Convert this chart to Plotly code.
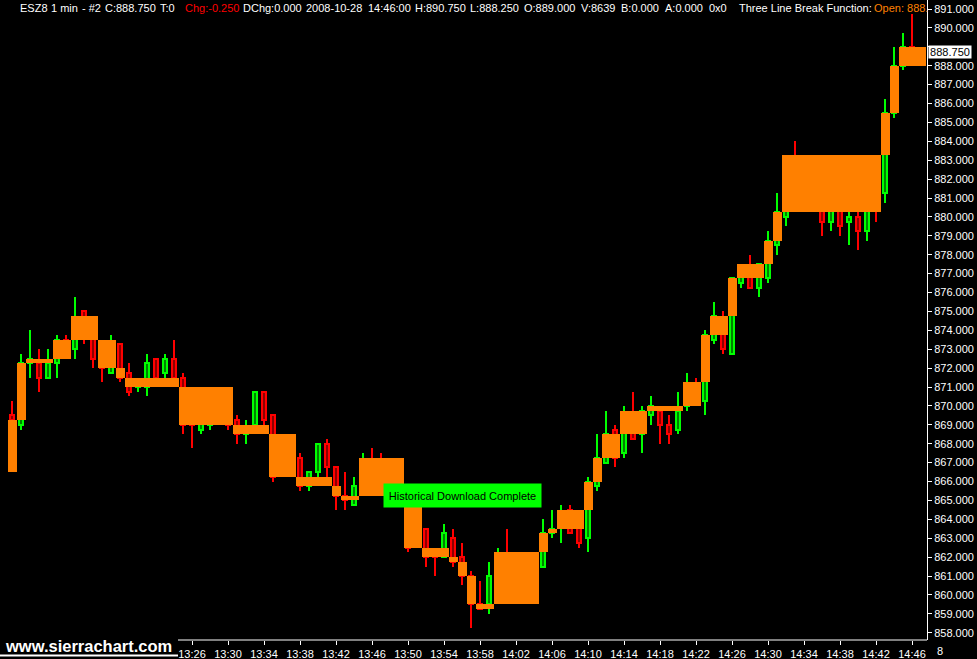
import plotly.graph_objects as go

# ---------------- data (1-minute bars, 13:06 .. 14:46) ----------------
bar_index = list(range(101))
open_ = [869.5, 869.0, 872.25, 872.25, 871.5, 872.25, 873.5, 873.0, 875.0, 873.75,
         873.25, 871.75, 873.25, 871.75, 871.0, 871.0, 872.5, 871.75, 872.5, 871.5,
         870.0, 868.75, 869.0, 869.5, 869.5, 869.25, 868.5, 869.0, 870.75, 869.5,
         867.5, 867.0, 867.25, 865.75, 866.5, 868.0, 866.75, 865.25, 864.75, 865.5,
         866.75, 866.5, 866.0, 866.5, 865.25, 863.0, 863.5, 862.25, 862.0, 863.0,
         862.0, 861.0, 859.5, 859.5, 861.0, 862.0, 861.25, 861.5, 861.0, 861.5,
         863.25, 863.75, 864.5, 864.25, 863.0, 865.75, 867.0, 868.75, 867.5, 869.5,
         868.5, 869.5, 869.75, 869.0, 868.75, 870.0, 871.0, 870.25, 873.5, 874.5,
         872.75, 876.5, 877.25, 876.25, 876.75, 878.5, 880.0, 882.0, 881.0, 881.5,
         881.0, 879.75, 880.75, 879.75, 880.0, 879.25, 881.0, 881.25, 885.5, 888.0,
         889.0]
high = [870.25, 872.75, 874.0, 873.0, 873.0, 873.75, 873.75, 875.75, 875.0, 874.0,
        873.5, 873.75, 873.25, 872.25, 871.5, 872.75, 872.5, 872.75, 873.5, 871.75,
        870.5, 869.75, 870.0, 870.0, 869.75, 869.5, 869.25, 870.75, 870.75, 869.5,
        868.0, 867.5, 867.5, 866.5, 868.0, 868.25, 866.75, 866.5, 866.25, 867.5,
        867.75, 867.5, 867.0, 867.0, 865.5, 863.5, 863.5, 862.5, 863.75, 863.5,
        862.75, 861.25, 860.75, 861.75, 862.5, 863.5, 862.0, 862.0, 862.25, 864.0,
        864.5, 864.75, 864.75, 864.5, 866.25, 868.5, 869.75, 869.0, 870.0, 870.75,
        870.0, 870.5, 870.0, 869.5, 870.75, 871.75, 871.5, 874.0, 875.5, 875.0,
        876.75, 877.5, 878.0, 877.5, 879.25, 881.25, 882.5, 884.0, 882.0, 882.25,
        881.5, 881.0, 881.0, 880.25, 880.5, 881.0, 881.5, 886.25, 889.0, 889.75,
        890.75]
low = [869.0, 868.75, 871.5, 870.75, 871.5, 871.5, 872.5, 872.5, 873.25, 872.0,
       871.25, 871.75, 871.25, 870.5, 870.75, 870.5, 871.25, 871.25, 871.25, 868.5,
       867.75, 868.5, 868.75, 869.0, 868.75, 868.0, 868.0, 868.75, 869.0, 866.0,
       866.75, 866.5, 865.5, 865.5, 866.25, 866.25, 864.5, 864.5, 864.75, 865.25,
       865.75, 865.5, 865.5, 865.5, 862.25, 862.5, 861.5, 861.0, 862.0, 861.5,
       860.5, 858.25, 859.25, 859.0, 860.0, 861.0, 860.5, 860.75, 860.75, 861.5,
       863.0, 862.75, 863.25, 862.5, 862.25, 865.5, 867.0, 866.75, 867.25, 868.25,
       867.5, 869.0, 868.0, 868.0, 868.5, 869.75, 870.25, 869.5, 873.25, 872.75,
       872.75, 876.25, 876.25, 875.75, 876.5, 878.0, 879.5, 880.5, 880.5, 880.75,
       879.0, 879.25, 879.0, 878.5, 878.25, 878.75, 879.75, 880.75, 885.25, 887.75,
       888.25]
close = [869.25, 872.25, 872.5, 871.5, 872.25, 873.5, 872.75, 874.5, 873.75, 872.5,
         872.0, 873.0, 871.5, 870.75, 871.25, 872.25, 871.5, 872.5, 871.5, 869.0,
         869.0, 869.5, 869.5, 869.25, 869.0, 868.5, 868.75, 870.75, 869.25, 866.25,
         867.0, 866.75, 865.75, 866.5, 868.0, 866.75, 865.25, 865.0, 865.75, 866.75,
         866.0, 866.0, 866.5, 865.75, 862.5, 862.75, 862.0, 862.0, 863.25, 861.75,
         861.0, 859.5, 859.25, 861.0, 862.0, 861.25, 861.5, 861.0, 862.0, 863.25,
         863.5, 864.25, 863.25, 862.75, 866.0, 867.25, 868.5, 867.25, 869.5, 868.25,
         869.75, 870.0, 869.0, 868.5, 869.75, 871.0, 870.5, 873.75, 874.75, 873.0,
         876.75, 877.25, 876.25, 877.5, 878.75, 880.25, 882.0, 881.0, 881.5, 881.0,
         879.75, 880.75, 879.5, 880.0, 879.25, 880.75, 880.5, 885.5, 888.0, 889.0,
         888.75]

# Three Line Break lines: first bar, last bar, line start price, line end price
brick_start = [0, 1, 2, 5, 7, 10, 12, 13, 19, 25, 29, 32, 36, 37, 39, 44, 46, 49, 50, 51,
               52, 54, 59, 60, 61, 64, 65, 66, 68, 71, 75, 77, 78, 80, 81, 84, 85, 86, 97, 98, 99]
brick_end = [0, 1, 4, 6, 9, 11, 12, 18, 24, 28, 31, 35, 36, 38, 43, 45, 48, 49, 50, 51,
             53, 58, 59, 60, 63, 64, 65, 67, 70, 74, 76, 77, 79, 80, 83, 84, 85, 96, 97, 98, 101]
brick_from = [866.5, 869.25, 872.25, 872.5, 873.5, 873.5, 872.0, 871.5, 871.0, 869.0,
              868.5, 866.25, 865.75, 865.25, 865.25, 865.25, 862.5, 862.0, 861.75, 861.0,
              859.5, 859.5, 862.25, 863.25, 863.5, 864.5, 866.0, 867.25, 868.5, 869.75,
              870.0, 871.25, 873.75, 874.75, 876.75, 877.5, 878.75, 880.25, 883.25, 885.5,
              888.0]
brick_to = [869.25, 872.25, 872.5, 873.5, 874.75, 872.0, 871.5, 871.0, 869.0, 868.5,
            866.25, 865.75, 865.25, 865.0, 867.25, 862.5, 862.0, 861.75, 861.0, 859.5,
            859.25, 862.25, 863.25, 863.5, 864.5, 866.0, 867.25, 868.5, 869.75, 870.0,
            871.25, 873.75, 874.75, 876.75, 877.5, 878.75, 880.25, 883.25, 885.5, 888.0,
            889.0]

tick_index = list(range(20, 101, 4))
tick_labels = ["13:26", "13:30", "13:34", "13:38", "13:42", "13:46", "13:50", "13:54",
               "13:58", "14:02", "14:06", "14:10", "14:14", "14:18", "14:22", "14:26",
               "14:30", "14:34", "14:38", "14:42", "14:46"]

price_ticks = list(range(858, 892))
price_hidden = [889]   # label covered by the last-price marker

header_items = ["ESZ8", "1 min", "- #2", "C:888.750", "T:0", "Chg:-0.250", "DChg:0.000",
                "2008-10-28", "14:46:00", "H:890.750", "L:888.250", "O:889.000", "V:8639",
                "B:0.000", "A:0.000", "0x0", "Three Line Break Function:", "Open: 888."]
header_x = [19, 50, 81, 104, 159, 184, 242, 305, 367, 414, 469, 523, 580, 620, 664, 708, 738, 873]
header_colors = ["white"] * 5 + ["#FF0000"] + ["white"] * 11 + ["#FF8000"]

last_price = 888.75

# ---------------- figure ----------------
FONT = "Liberation Sans, Arial, sans-serif"
W, H = 977, 659
PW, PH = 927, 640   # plot area size in px

GREEN, DKGREEN = "#00FF00", "#008000"
RED, DKRED = "#FF0000", "#8B0000"
ORANGE = "#FF8000"

fig = go.Figure()

up_idx = [i for i in bar_index if close[i] >= open_[i]]
dn_idx = [i for i in bar_index if close[i] < open_[i]]

# wicks
for idx, col in ((up_idx, GREEN), (dn_idx, RED)):
    fig.add_trace(go.Bar(
        x=idx, y=[high[i] - low[i] for i in idx], base=[low[i] for i in idx],
        width=0.22, marker=dict(color=col, line=dict(width=0)), hoverinfo="skip"))

# bodies
for idx, fill, col in ((up_idx, DKGREEN, GREEN), (dn_idx, DKRED, RED)):
    fig.add_trace(go.Bar(
        x=idx, y=[max(abs(close[i] - open_[i]), 0.05) for i in idx],
        base=[min(open_[i], close[i]) for i in idx],
        width=0.45, marker=dict(color=fill, line=dict(color=col, width=2)),
        hoverinfo="skip"))

# three line break bricks
fig.add_trace(go.Bar(
    x=[(s + e) / 2 for s, e in zip(brick_start, brick_end)],
    y=[abs(t - f) for f, t in zip(brick_from, brick_to)],
    base=[min(f, t) for f, t in zip(brick_from, brick_to)],
    width=[e - s + 1 for s, e in zip(brick_start, brick_end)],
    marker=dict(color=ORANGE, line=dict(width=0)), hoverinfo="skip"))

x0 = -12 / 9
x1 = (PW - 12) / 9
ytop = 891 + 9 / 18.9
ybot = 891 - (PH - 9) / 18.9

annotations = []
for txt, px, col in zip(header_items, header_x, header_colors):
    annotations.append(dict(text=txt, xref="paper", yref="paper", x=px / PW, y=1 - 8 / PH,
                            xanchor="left", yanchor="middle", showarrow=False,
                            font=dict(family=FONT, size=11, color=col), borderpad=0))

annotations.append(dict(text="Historical Download Complete", xref="paper", yref="paper",
                        x=462.5 / PW, y=1 - 495.5 / PH, xanchor="center", yanchor="middle",
                        showarrow=False, width=151, height=17, borderpad=3,
                        bgcolor="#00FF00", font=dict(family=FONT, size=11, color="black")))

annotations.append(dict(text=f"{last_price:.3f}", xref="paper", yref="y",
                        x=928 / PW, y=last_price, xanchor="left", yanchor="middle",
                        showarrow=False, width=40, height=10, borderpad=1,
                        bgcolor="white", font=dict(family=FONT, size=11, color="black")))

annotations.append(dict(text="www.sierrachart.com", xref="paper", yref="paper",
                        x=4 / PW, y=1 - 646 / PH, xanchor="left", yanchor="middle",
                        showarrow=False, borderpad=0,
                        font=dict(family=FONT, size=16.5, color="white", weight="bold")))

annotations.append(dict(text="8", xref="paper", yref="paper", x=936 / PW, y=1 - 651 / PH,
                        xanchor="left", yanchor="middle", showarrow=False, borderpad=0,
                        font=dict(family=FONT, size=11, color="white")))

shapes = [
    dict(type="line", xref="paper", yref="paper", x0=178 / PW, x1=1, y0=0, y1=0,
         line=dict(color="white", width=1), layer="above"),
    dict(type="line", xref="paper", yref="paper", x0=0, x1=178 / PW,
         y0=1 - 655.5 / PH, y1=1 - 655.5 / PH, line=dict(color="white", width=2), layer="above"),
]

fig.update_layout(
    width=W, height=H, autosize=False,
    margin=dict(l=0, r=W - PW, t=0, b=H - PH, pad=0),
    paper_bgcolor="black", plot_bgcolor="black",
    barmode="overlay", bargap=0, showlegend=False, hovermode=False,
    font=dict(family=FONT, size=11, color="white"),
    annotations=annotations, shapes=shapes,
    xaxis=dict(range=[x0, x1], tickvals=tick_index, ticktext=tick_labels,
               ticks="outside", ticklen=4, tickcolor="white", tickwidth=1,
               showline=False, showgrid=False, zeroline=False, fixedrange=True,
               tickfont=dict(family=FONT, size=11, color="white")),
    yaxis=dict(range=[ybot, ytop], side="right",
               tickvals=price_ticks,
               ticktext=["" if p in price_hidden else f"{p:.3f}" for p in price_ticks],
               ticks="outside", ticklen=4, tickcolor="white", tickwidth=1,
               showline=True, linecolor="white", linewidth=1,
               showgrid=False, zeroline=False, fixedrange=True,
               tickfont=dict(family=FONT, size=11, color="white")),
)

fig.write_html(
    "out.html",
    config={"displayModeBar": False},
    post_script="document.body.style.margin='0px';document.body.style.overflow='hidden';",
)
